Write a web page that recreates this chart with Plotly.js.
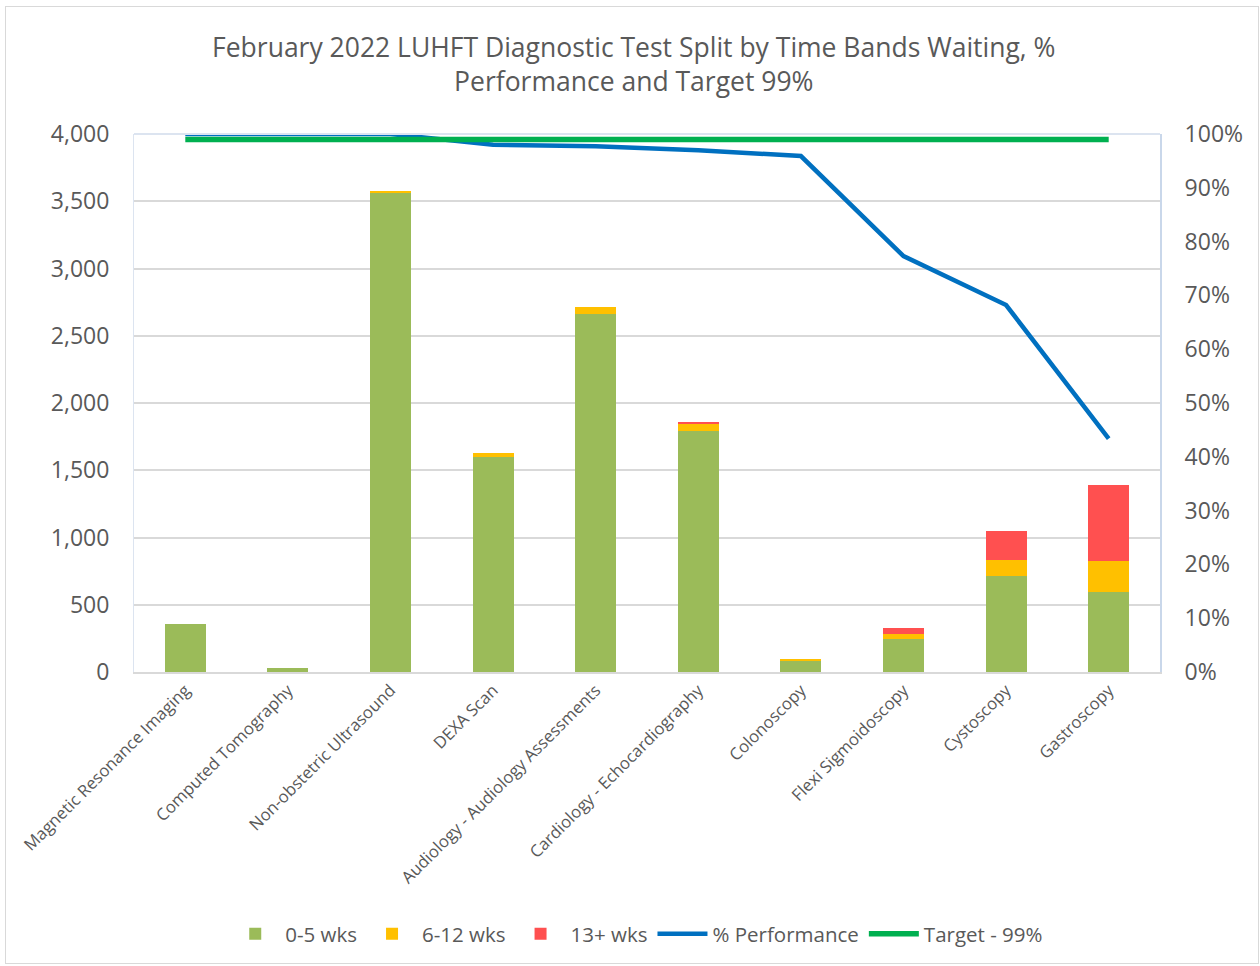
<!DOCTYPE html>
<html>
<head>
<meta charset="utf-8">
<script src="https://cdn.plot.ly/plotly-3.0.1.min.js"></script>
<style>
html,body{margin:0;padding:0;background:#fff;}
#frame{position:absolute;left:5px;top:6px;width:1254px;height:958px;border:1px solid #d9d9d9;box-sizing:border-box;}
#chart{position:absolute;left:0;top:0;width:1260px;height:966px;}
</style>
</head>
<body>
<div id="frame"></div>
<div id="chart"></div>
<script>
const categories = ["Magnetic Resonance Imaging","Computed Tomography","Non-obstetric Ultrasound","DEXA Scan","Audiology - Audiology Assessments","Cardiology - Echocardiography","Colonoscopy","Flexi Sigmoidoscopy","Cystoscopy","Gastroscopy"];
const wks0to5 = [358, 30, 3562, 1600, 2660, 1792, 82, 245, 714, 595];
const wks6to12 = [2, 0, 12, 27, 55, 55, 12, 40, 119, 228];
const wks13plus = [0, 0, 0, 0, 0, 10, 0, 44, 218, 565];
const performance = [1.0, 1.0, 1.0, 0.98, 0.977, 0.970, 0.959, 0.773, 0.682, 0.434];
const target = [0.99, 0.99, 0.99, 0.99, 0.99, 0.99, 0.99, 0.99, 0.99, 0.99];
const leftTicks = [0, 500, 1000, 1500, 2000, 2500, 3000, 3500, 4000];
const rightTicks = [0, 0.1, 0.2, 0.3, 0.4, 0.5, 0.6, 0.7, 0.8, 0.9, 1.0];

const font = "Open Sans, Noto Sans, sans-serif";
const txt = "#595959";

const traces = [
  {type:"bar", name:"0-5 wks", x:categories, y:wks0to5, marker:{color:"#9BBB59"}},
  {type:"bar", name:"6-12 wks", x:categories, y:wks6to12, marker:{color:"#FFC000"}},
  {type:"bar", name:"13+ wks", x:categories, y:wks13plus, marker:{color:"#FF5050"}},
  {type:"scatter", mode:"lines", name:"% Performance", x:categories, y:performance, yaxis:"y2",
   line:{color:"#0070C0", width:4.5}, cliponaxis:false},
  {type:"scatter", mode:"lines", name:"Target - 99%", x:categories, y:target, yaxis:"y2",
   line:{color:"#00B050", width:5.5}, cliponaxis:false}
];

const layout = {
  width:1260, height:966,
  margin:{l:134, r:100, t:134, b:294},
  paper_bgcolor:"rgba(0,0,0,0)", plot_bgcolor:"#fff",
  barmode:"stack", bargap:0.6,
  font:{family:font, color:txt},
  title:{text:"February 2022 LUHFT Diagnostic Test Split by Time Bands Waiting, %<br>Performance and Target 99%",
    x:0.503, xanchor:"center", y:0.941, yanchor:"middle", font:{size:26.5, color:txt, family:font}},
  xaxis:{type:"category", tickangle:-45, tickfont:{size:16.7, color:txt}, showgrid:false,
    showline:true, linecolor:"#d9d9d9", linewidth:2, ticks:"", mirror:false},
  yaxis:{range:[0,4000], tickvals:leftTicks, tickformat:",d", tickfont:{size:23, color:txt},
    gridcolor:"#d9d9d9", gridwidth:2, zeroline:false, showline:true, linecolor:"#DCE4F0", linewidth:1,
    ticks:"", ticklabelstandoff:19, fixedrange:true},
  yaxis2:{range:[0,1], overlaying:"y", side:"right", tickvals:rightTicks, tickformat:".0%",
    tickfont:{size:23, color:txt}, showgrid:false, zeroline:false, showline:true, linecolor:"#C9D7EA",
    linewidth:2, ticks:"", ticklabelstandoff:18},
  legend:{orientation:"h", x:0.49, xanchor:"center", y:-0.487, yanchor:"middle",
    font:{size:20.5, color:txt}, traceorder:"normal", itemwidth:50},
  shapes:[{type:"line", xref:"paper", yref:"paper", x0:0, x1:1, y0:1, y1:1, line:{color:"#DCE4F0", width:2}}],
  showlegend:true
};

Plotly.newPlot("chart", traces, layout, {displayModeBar:false, staticPlot:true});
</script>
</body>
</html>
